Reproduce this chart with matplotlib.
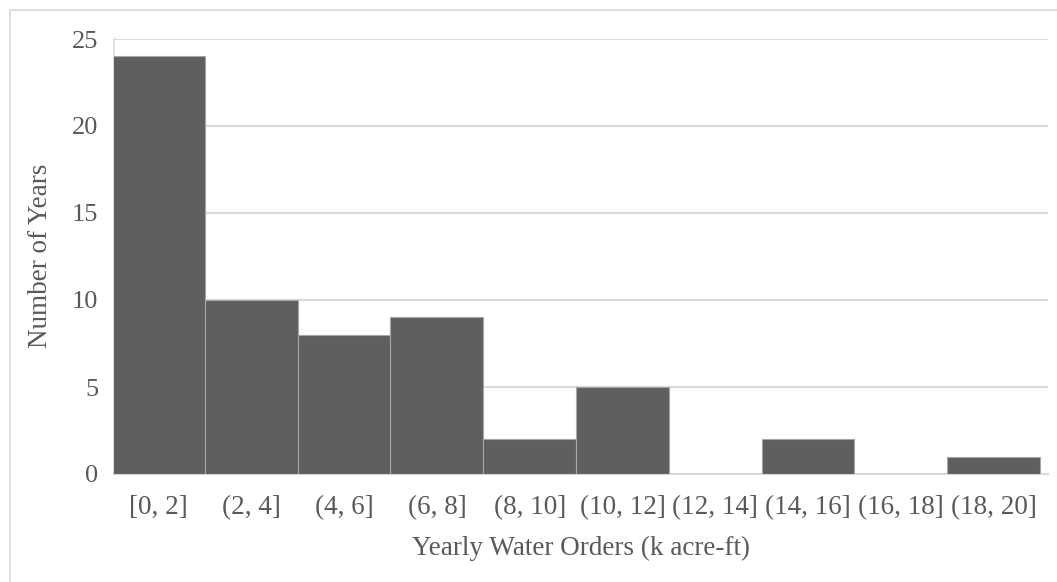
import matplotlib
matplotlib.use("Agg")
import matplotlib.pyplot as plt
from matplotlib.patches import Rectangle

# Histogram of yearly water orders
bins = ["[0, 2]", "(2, 4]", "(4, 6]", "(6, 8]", "(8, 10]",
        "(10, 12]", "(12, 14]", "(14, 16]", "(16, 18]", "(18, 20]"]
counts = [24, 10, 8, 9, 2, 5, 0, 2, 0, 1]
y_ticks = [0, 5, 10, 15, 20, 25]

W, H, DPI = 1057, 582, 100
plt.rcParams["font.family"] = ["Liberation Serif", "DejaVu Serif"]
text_color = "#595959"
grid_color = "#d9d9d9"

fig = plt.figure(figsize=(W / DPI, H / DPI), dpi=DPI)
fig.patch.set_facecolor("white")

# chart-area border (top and left visible)
fig.patches.append(Rectangle((9.5 / W, -0.01), 1.05, (H - 9.5) / H + 0.01,
                             transform=fig.transFigure, fill=False,
                             edgecolor=grid_color, linewidth=1.2))

left, right = 114 / W, 1048 / W
bottom, top = (H - 474) / H, (H - 39) / H
ax = fig.add_axes([left, bottom, right - left, top - bottom])

x = list(range(len(bins)))
ax.bar(x, counts, width=1.0, color="#5f5f5f", edgecolor="#a6a6a6",
       linewidth=0.8, zorder=3)

ax.set_xlim(-0.48, len(bins) - 0.5 + 8 / 92.6)
ax.set_ylim(0, 25)
ax.set_yticks(y_ticks)
ax.set_xticks(x)
ax.set_xticklabels(bins)

ax.yaxis.grid(True, color=grid_color, linewidth=1.5, zorder=0)
ax.set_axisbelow(True)
for s in ["top", "right"]:
    ax.spines[s].set_visible(False)
ax.spines["left"].set_color(grid_color)
ax.spines["left"].set_linewidth(1.2)
ax.spines["bottom"].set_color(grid_color)
ax.spines["bottom"].set_linewidth(1.5)
ax.tick_params(axis="both", length=0, colors=text_color)
ax.tick_params(axis="y", labelsize=19, pad=11.5)
ax.tick_params(axis="x", labelsize=19.5, pad=15)

ax.set_xlabel("Yearly Water Orders (k acre-ft)", fontsize=19.5,
              color=text_color, va="center", ha="center")
ax.xaxis.set_label_coords(0.5, -0.170)
ax.set_ylabel("Number of Years", fontsize=19.5, color=text_color,
              va="center", ha="center")
ax.yaxis.set_label_coords(-0.0792, 0.501)

fig.savefig("out.png", dpi=DPI)
